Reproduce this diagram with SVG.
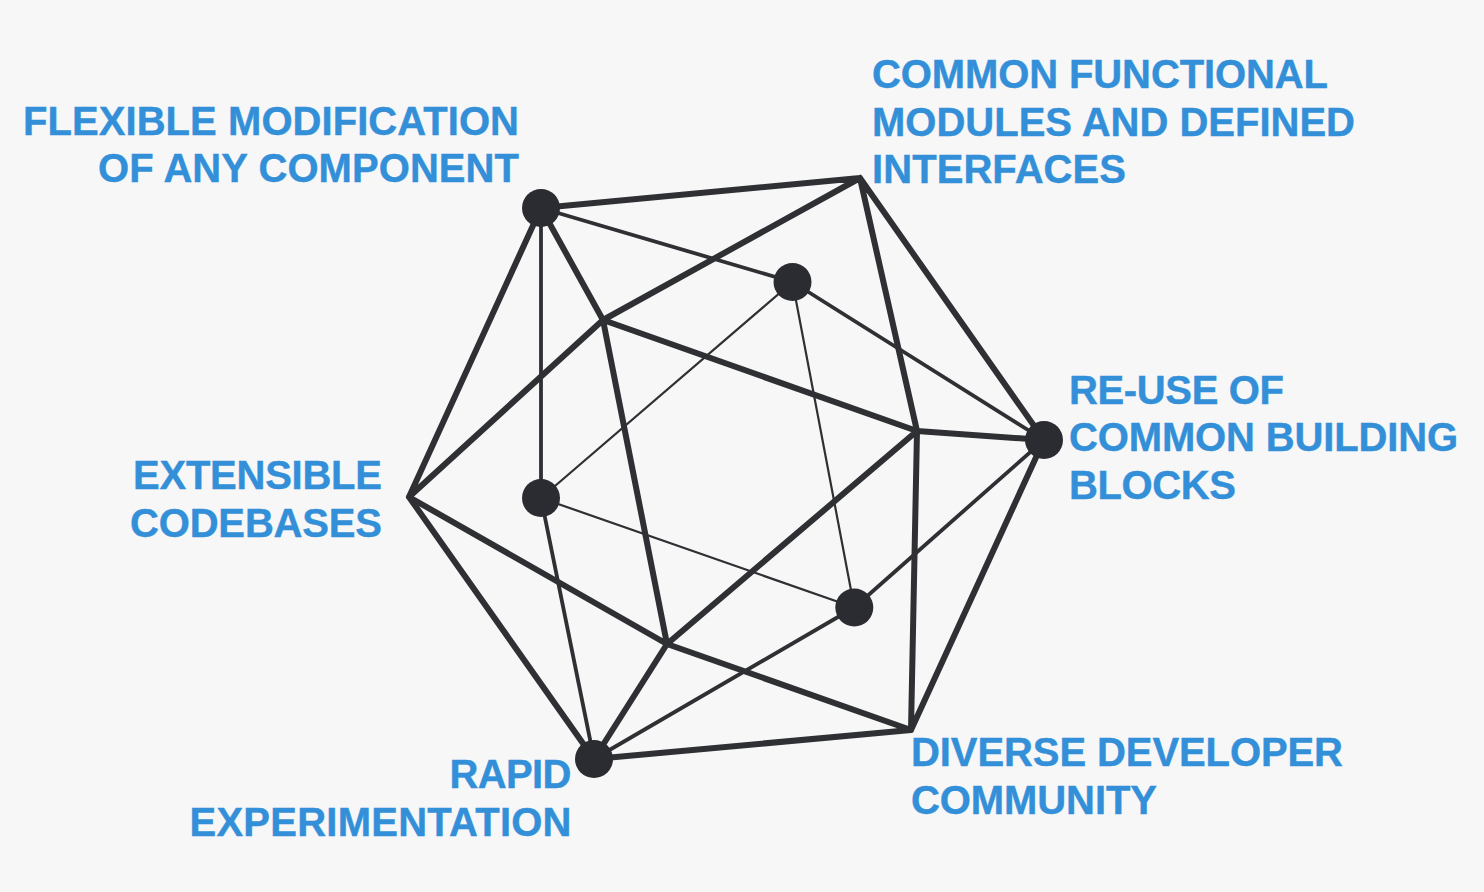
<svg xmlns="http://www.w3.org/2000/svg" width="1484" height="892" viewBox="0 0 1484 892">
<style>
.l{font-family:"Liberation Sans",Arial,sans-serif;font-weight:bold;font-size:40px;fill:#338fd8;stroke:#338fd8;stroke-width:.4}
.e{text-anchor:end}
.a{stroke:#2f3034;stroke-width:6;fill:none;stroke-linecap:round}
.b{stroke:#2f3034;stroke-width:3.8;fill:none;stroke-linecap:round}
.c{stroke:#2f3034;stroke-width:2.2;fill:none;stroke-linecap:round}
.n{fill:#2b2c31}
</style>
<rect width="1484" height="892" fill="#f7f7f7"/>
<g id="connectors">
<path class="a" d="M541 208L860 178M860 178L1044 440M860 178L603 320M860 178L917 431M541 208L603 320M541 208L409 497M603 320L409 497M603 320L917 431M603 320L667 644M917 431L1044 440M917 431L667 644M917 431L911 730M1044 440L911 730M409 497L667 644M409 497L594 759M667 644L911 730M667 644L594 759M594 759L911 730"/>
<path class="b" d="M541 208L792.500 282M541 208L541 498M792.500 282L1044 440M541 498L594 759M1044 440L854.300 607.500M594 759L854.300 607.500"/>
<path class="c" d="M792.500 282L541 498M792.500 282L854.300 607.500M541 498L854.300 607.500"/>
</g>
<g id="node-flexible"><circle class="n" cx="541" cy="208" r="19"/><text class="l e" x="519" y="134.500" textLength="496">FLEXIBLE MODIFICATION</text><text class="l e" x="519" y="181.500" textLength="421">OF ANY COMPONENT</text></g>
<g id="node-common"><text class="l" x="872" y="87.500" textLength="456">COMMON FUNCTIONAL</text><text class="l" x="872" y="135.500" textLength="483">MODULES AND DEFINED</text><text class="l" x="872" y="182.500" textLength="254">INTERFACES</text></g>
<g id="node-inner-top"><circle class="n" cx="792.500" cy="282" r="19"/></g>
<g id="node-reuse"><circle class="n" cx="1044" cy="440" r="19"/><text class="l" x="1069" y="403.500" textLength="215">RE-USE OF</text><text class="l" x="1069" y="450.500" textLength="389">COMMON BUILDING</text><text class="l" x="1069" y="498.500" textLength="167">BLOCKS</text></g>
<g id="node-extensible"><text class="l e" x="382" y="488.500" textLength="249">EXTENSIBLE</text><text class="l e" x="382" y="536.500" textLength="252">CODEBASES</text></g>
<g id="node-inner-left"><circle class="n" cx="541" cy="498" r="19"/></g>
<g id="node-inner-right"><circle class="n" cx="854.300" cy="607.500" r="19"/></g>
<g id="node-rapid"><circle class="n" cx="594" cy="759" r="19"/><text class="l e" x="571.500" y="787.500" textLength="122">RAPID</text><text class="l e" x="571.500" y="835.500" textLength="382">EXPERIMENTATION</text></g>
<g id="node-diverse"><text class="l" x="911" y="765.500" textLength="432">DIVERSE DEVELOPER</text><text class="l" x="911" y="813.500" textLength="246">COMMUNITY</text></g>
</svg>
